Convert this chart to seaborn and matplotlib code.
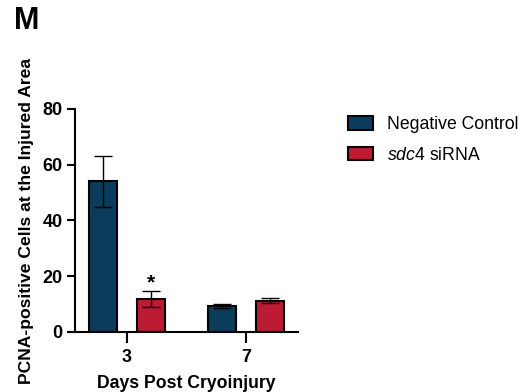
import pandas as pd
import numpy as np
import seaborn as sns
import matplotlib.pyplot as plt
from matplotlib.patches import Patch

# values (mean and error)
days = ['3', '3', '7', '7']
groups = ['Negative Control', 'sdc4 siRNA', 'Negative Control', 'sdc4 siRNA']
means = [54.0, 11.8, 9.3, 11.3]
errs = [9.0, 3.0, 0.7, 0.8]
hue_order = ['Negative Control', 'sdc4 siRNA']
legend_labels = ['Negative Control', r'$\mathit{sdc4}$ siRNA']
colors = ['#0A3D5B', '#BD1B33']

df = pd.DataFrame({'day': days, 'group': groups, 'mean': means, 'err': errs})

sns.set_style('ticks')
plt.rcParams['font.family'] = ['Liberation Sans', 'DejaVu Sans']
plt.rcParams['mathtext.fontset'] = 'custom'
plt.rcParams['mathtext.it'] = 'Liberation Sans:italic'
plt.rcParams['mathtext.rm'] = 'Liberation Sans'
plt.rcParams['text.color'] = 'black'
plt.rcParams['axes.labelcolor'] = 'black'
plt.rcParams['xtick.color'] = 'black'
plt.rcParams['ytick.color'] = 'black'

fig = plt.figure(figsize=(5.24, 3.92), dpi=100)
ax = fig.add_axes([75/524, 1-332/392, 223/524, 223/392])

sns.barplot(data=df, x='day', y='mean', hue='group', hue_order=hue_order,
            palette=colors, saturation=1, width=0.8, gap=0.41,
            edgecolor='black', linewidth=1.5, errorbar=None, legend=False, ax=ax)

# error bars on top of each bar
for j, g in enumerate(hue_order):
    sub = df[df['group'] == g]
    for bar, (_, row) in zip(ax.containers[j], sub.iterrows()):
        cx = bar.get_x() + bar.get_width() / 2
        ax.errorbar(cx, row['mean'], yerr=row['err'], color='black',
                    lw=1.0, capsize=6.5, capthick=1.0, zorder=5)

# significance mark
bar = ax.containers[1][0]
ax.text(bar.get_x() + bar.get_width() / 2, 14.3, '*', ha='center', va='bottom',
        fontsize=15, fontweight='bold')

ax.set_xlim(-0.437, 1.437)
ax.set_ylim(0, 80)
ax.set_yticks([0, 20, 40, 60, 80])
ax.set_xlabel('Days Post Cryoinjury', fontsize=12.7, fontweight='bold', labelpad=7)
ax.set_ylabel('PCNA-positive Cells at the Injured Area', fontsize=12.6,
              fontweight='bold', labelpad=6)
ax.tick_params(axis='y', labelsize=13, width=1.5, length=6, pad=3)
ax.tick_params(axis='x', labelsize=13, width=1.5, length=8, pad=4)
for lab in ax.get_xticklabels() + ax.get_yticklabels():
    lab.set_fontweight('bold')
sns.despine(ax=ax)
for s in ['left', 'bottom']:
    ax.spines[s].set_linewidth(1.5)
    ax.spines[s].set_color('black')

handles = [Patch(facecolor=c, edgecolor='black', linewidth=1.5) for c in colors]
fig.legend(handles, legend_labels, loc='upper left',
           bbox_to_anchor=(348/524, 1-116/392), frameon=False,
           fontsize=12.7, handlelength=1.42, handleheight=0.8,
           handletextpad=0.8, labelspacing=0.78, borderpad=0, borderaxespad=0)

fig.text(14/524, 1-29/392, 'M', fontsize=22, fontweight='bold', va='baseline')

fig.savefig('out.png', dpi=100)
